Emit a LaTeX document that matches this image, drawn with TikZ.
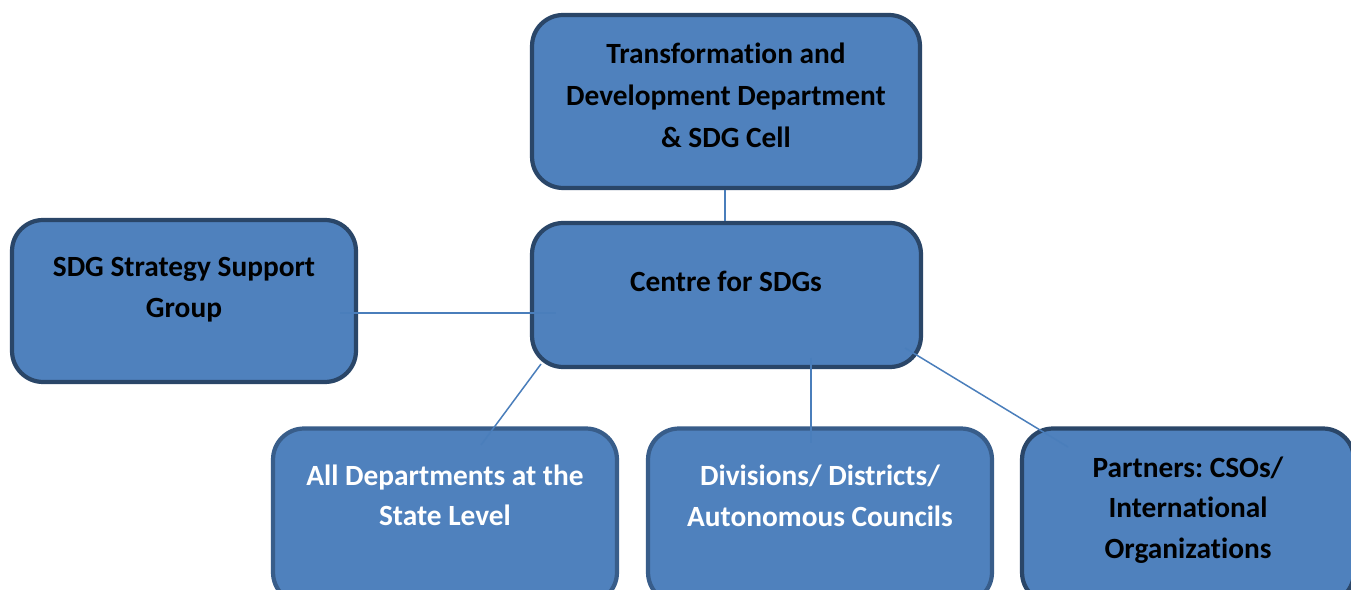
\documentclass[tikz,border=0pt]{standalone}
\usepackage{fontspec}
\setmainfont{Carlito}[Ligatures=NoCommon]
\usepackage{tikz}
\frenchspacing
\definecolor{boxfill}{HTML}{4F81BD}
\definecolor{darkrim}{HTML}{2A4668}
\definecolor{midrim}{HTML}{385D8A}
\definecolor{linkblue}{HTML}{4A7EBB}
\tikzset{
  orgbox/.style={rectangle, rounded corners=0.62cm, fill=boxfill, draw=darkrim, line width=2.4pt, inner sep=0pt},
  lowbox/.style={orgbox, draw=midrim},
  orgtext/.style={align=center, font=\fontsize{16.7}{23}\selectfont\bfseries, inner sep=0pt},
  toptext/.style={orgtext, font=\fontsize{16.7}{23.9}\selectfont\bfseries},
  link/.style={draw=linkblue, line width=0.85pt}
}

\begin{document}
\begin{tikzpicture}[x=0.02cm,y=-0.02cm]
\clip (0,0) rectangle (1351,590);
\fill[white] (0,0) rectangle (1351,590);

\node[orgbox, minimum width=7.76cm, minimum height=3.46cm] (tdd) at (726,101.5) {};
\node[orgbox, minimum width=7.78cm, minimum height=2.88cm] (csdg) at (726.5,295) {};
\node[orgbox, minimum width=6.88cm, minimum height=3.24cm] (ssg) at (184,301) {};
\node[lowbox, minimum width=6.88cm, minimum height=3.50cm] (dept) at (445,516) {};
\node[lowbox, minimum width=6.88cm, minimum height=3.50cm] (div) at (820,516) {};
\node[orgbox, minimum width=6.64cm, minimum height=3.50cm] (part) at (1188,516) {};

\node[toptext] (tddT) at (726,95) {Transformation and\\Development Department\\\& SDG Cell};
\node[orgtext] (csdgT) at (726,281) {Centre for SDGs};
\node[orgtext] (ssgT) at (184,289.5) {SDG Strategy Support\\Group};
\node[orgtext, text=white] (deptT) at (445,495.5) {All Departments at the\\State Level};
\node[orgtext, text=white] (divT) at (820,496) {Divisions/ Districts/\\Autonomous Councils};
\node[orgtext] (partT) at (1188,510) {Partners: CSOs/\\International\\Organizations};

\coordinate (ssgIn) at (340,313);
\coordinate (csdgW) at (556,313);
\coordinate (csdgSW) at (541,364);
\coordinate (deptIn) at (481,445);
\coordinate (csdgS) at (811,358);
\coordinate (divIn) at (811,443);
\coordinate (csdgSE) at (905,348);
\coordinate (partIn) at (1068,447);

\draw[link] (tdd.south -| 725,0) -- (csdg.north -| 725,0);
\draw[link] (ssgIn) -- (csdgW);
\draw[link] (csdgSW) -- (deptIn);
\draw[link] (csdgS) -- (divIn);
\draw[link] (csdgSE) -- (partIn);
\end{tikzpicture}
\end{document}
